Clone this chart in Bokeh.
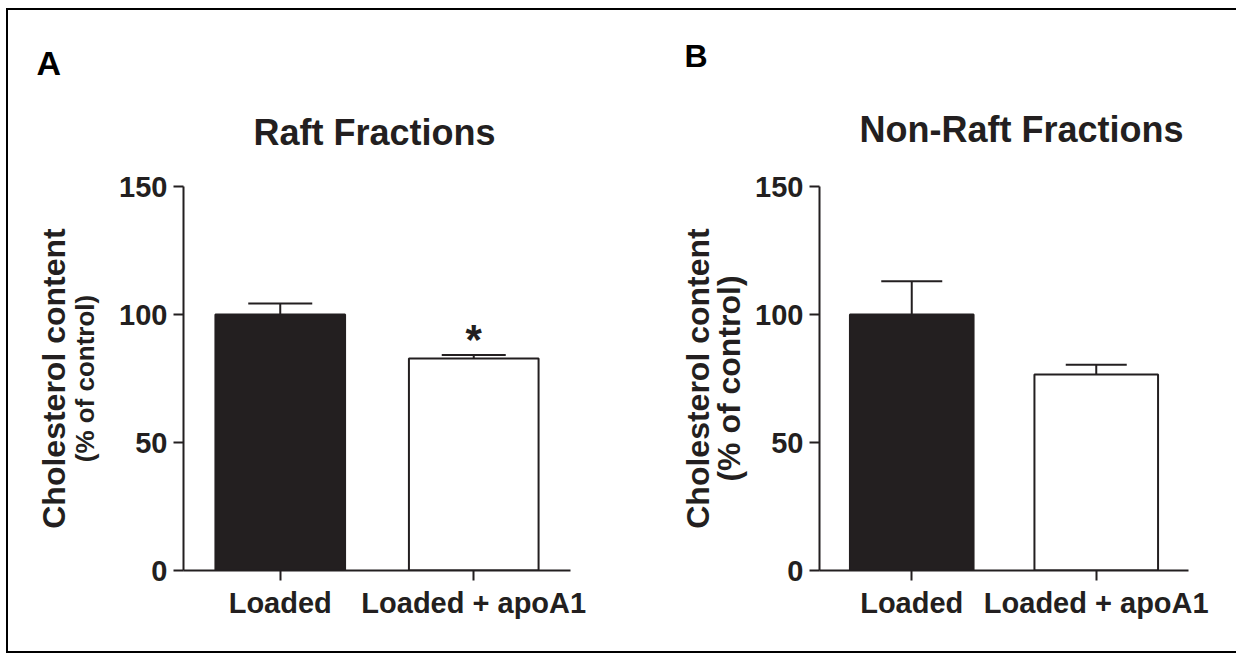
from bokeh.plotting import figure
from bokeh.layouts import row
from bokeh.models import (FactorRange, Range1d, FixedTicker, Whisker, TeeHead, Title,
                          ColumnDataSource, LinearAxis)
from bokeh.core.properties import value
from bokeh.embed import file_html
from bokeh.resources import INLINE

# ---- data ----
categories = ["Loaded", "Loaded + apoA1"]
raft_mean = [100.0, 82.8]
raft_sem = [4.3, 1.4]
raft_sig = ["", "*"]
nonraft_mean = [100.0, 76.6]
nonraft_sem = [13.0, 3.8]
nonraft_sig = ["", ""]
y_ticks = [0, 50, 100, 150]
bar_fills = ["#231f20", "#ffffff"]
y_label_1 = "Cholesterol content"
y_label_2 = "(% of control)"

INK = "#231f20"
FONT = "Liberation Sans"


def panel(title, letter, means, sems, sigs, width, height, mb, cap_px,
          title_off, title_standoff, letter_off, letter_standoff, letter_size,
          lab2_size, lab2_standoff, lab1_standoff, styles):
    p = figure(width=width, height=height, x_range=FactorRange(*categories, range_padding=0),
               y_range=Range1d(0, 150), output_backend="svg", toolbar_location=None,
               min_border_left=mb[0], min_border_right=mb[1], min_border_top=mb[2],
               min_border_bottom=mb[3], outline_line_color=None, styles=styles)
    p.title.visible = False
    p.title.text = ""
    src = ColumnDataSource(dict(cat=categories, mean=means,
                                upper=[m + s for m, s in zip(means, sems)],
                                fill=bar_fills,
                                star=sigs,
                                star_y=[m + s + 6 for m, s in zip(means, sems)]))
    p.vbar(x="cat", top="mean", width=0.67, bottom=0, source=src, fill_color="fill",
           line_color=INK, line_width=2)
    w = Whisker(base="cat", lower="mean", upper="upper", source=src, line_color=INK,
                line_width=2, upper_head=TeeHead(size=cap_px, line_color=INK, line_width=2),
                lower_head=None)
    p.add_layout(w)
    p.text(x="cat", y="star_y", text="star", source=src, text_align="center",
           text_baseline="alphabetic", text_font=value(FONT), text_font_style="bold",
           text_font_size="42px", text_color=INK)

    p.xgrid.visible = False
    p.ygrid.visible = False
    for ax in (p.xaxis[0], p.yaxis[0]):
        ax.axis_line_width = 2
        ax.axis_line_color = INK
        ax.major_tick_line_width = 2
        ax.major_tick_line_color = INK
        ax.major_tick_out = 10
        ax.major_tick_in = 0
        ax.minor_tick_line_color = None
        ax.major_label_text_font = FONT
        ax.major_label_text_font_style = "bold"
        ax.major_label_text_color = INK
        ax.major_label_standoff = 6
        ax.major_label_text_font_size = "29px"
    p.yaxis[0].ticker = FixedTicker(ticks=y_ticks)
    # inner line of the y label
    p.yaxis[0].axis_label = y_label_2
    p.yaxis[0].axis_label_text_font = FONT
    p.yaxis[0].axis_label_text_font_style = "bold"
    p.yaxis[0].axis_label_text_font_size = lab2_size
    p.yaxis[0].axis_label_text_color = INK
    p.yaxis[0].axis_label_standoff = lab2_standoff
    # outer line of the y label, on a bare extra axis
    outer = LinearAxis(ticker=FixedTicker(ticks=[]), axis_line_color=None,
                       major_tick_line_color=None, minor_tick_line_color=None,
                       major_label_text_font_size="0px", major_tick_out=0,
                       axis_label=y_label_1, axis_label_text_font=FONT,
                       axis_label_text_font_style="bold", axis_label_text_font_size="32px",
                       axis_label_text_color=INK, axis_label_standoff=lab1_standoff)
    p.add_layout(outer, "left")

    p.add_layout(Title(text=title, align="left", offset=title_off, standoff=title_standoff,
                       text_font=FONT, text_font_style="bold", text_font_size="36px",
                       text_color=INK), "above")
    p.add_layout(Title(text=letter, align="left", offset=letter_off, standoff=letter_standoff,
                       text_font=FONT, text_font_style="bold", text_font_size=letter_size,
                       text_color="#000000"), "above")
    return p


edge = "2px solid #000"
pa = panel("Raft Fractions", "A", raft_mean, raft_sem, raft_sig, 632, 645,
           (175, 70, 176, 85), 64, 70, 67, -147, -10, "34px", "26px", 16, -4,
           {"border-left": edge, "border-top": edge, "border-bottom": edge})
pb = panel("Non-Raft Fractions", "B", nonraft_mean, nonraft_sem, nonraft_sig, 598, 645,
           (181, 48, 176, 85), 61, 40, 73, -135, -6, "32px", "32px", 5, -7,
           {"border-top": edge, "border-bottom": edge})

layout = row(pa, pb, styles={"margin-left": "6px", "margin-top": "8px"})

open("out.html", "w").write(file_html(layout, INLINE))
